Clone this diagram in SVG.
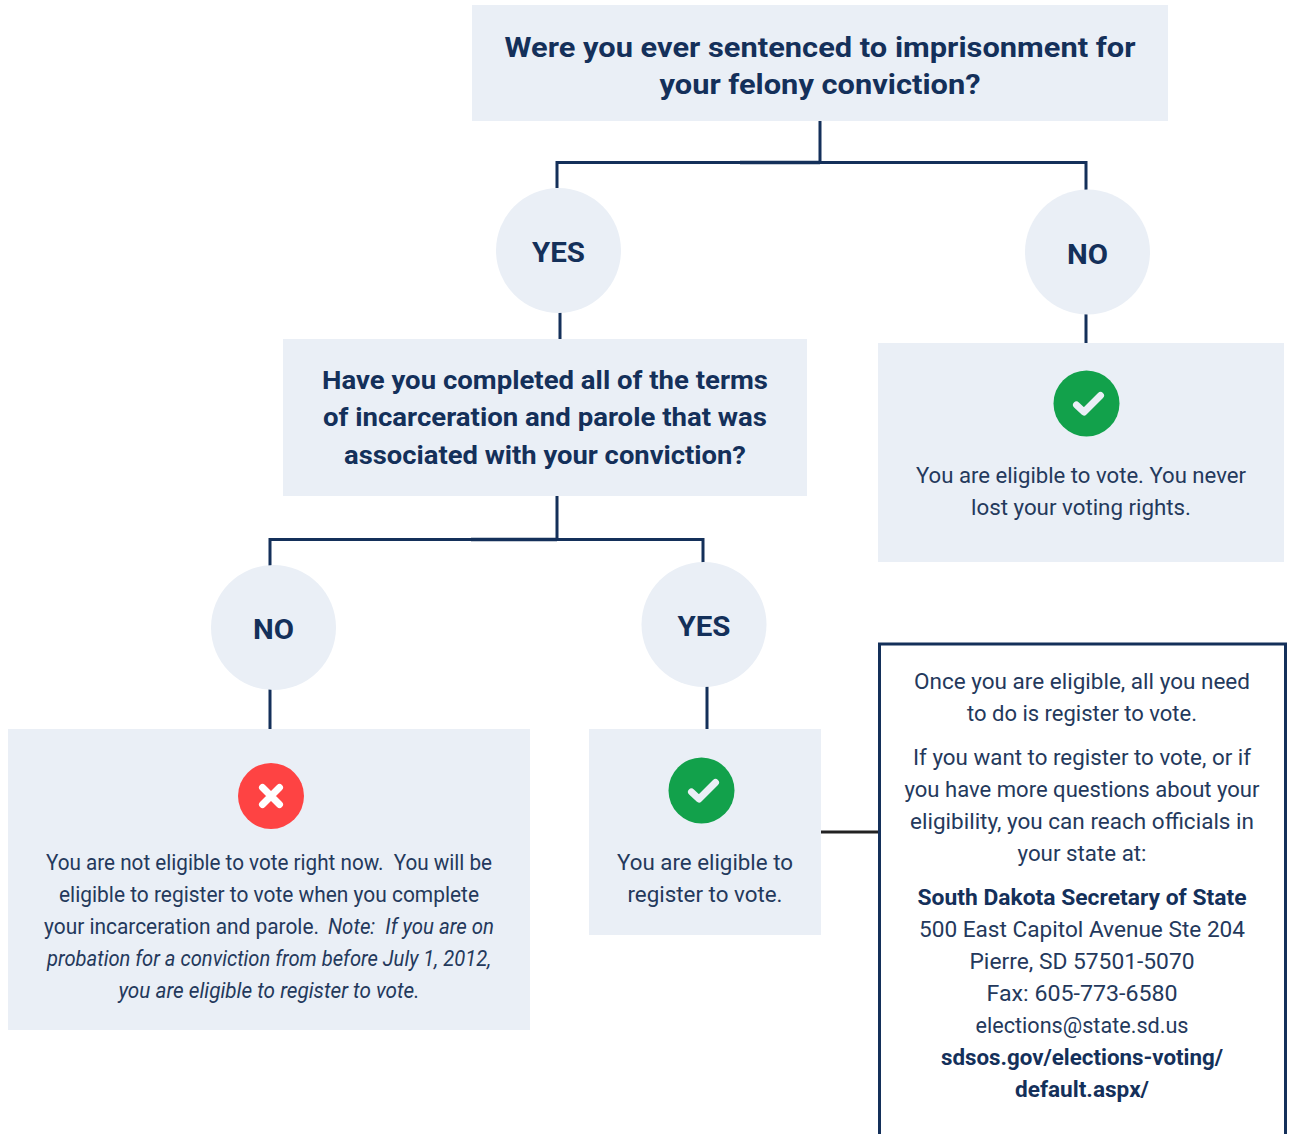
<svg xmlns="http://www.w3.org/2000/svg" width="1290" height="1134" viewBox="0 0 1290 1134">
<style>
text{font-family:"Roboto","Liberation Sans",sans-serif;fill:#24395c;text-anchor:middle}
.box{fill:#eaeff6}
.q{font-size:28px;font-weight:700;fill:#14305a}
.q2{font-size:26.5px;font-weight:700;fill:#14305a}
.a{font-size:27px;font-weight:700;fill:#14305a}
.t{font-size:22px;font-weight:400}
.b{font-weight:700;fill:#14305a}
.i{font-style:italic}
.s{text-anchor:start}
.c{fill:none;stroke:#14305a;stroke-width:3}
.h{fill:none;stroke:#14305a;stroke-width:3.6}
.k{fill:none;stroke:#222;stroke-width:3}
.x{fill:none;stroke:#fff;stroke-width:7;stroke-linecap:round}
.tick{fill:none;stroke:#eaeff6;stroke-width:7;stroke-linecap:round;stroke-linejoin:round}
</style>
<g id="connectors">
<path class="c" d="M820 121V162M557 188V162.500H1086V190"/>
<path class="h" d="M740 162.500H820"/>
<path class="c" d="M560 312V340M1086 314V344"/>
<path class="c" d="M557 496V539M270 566V539.500H703V563"/>
<path class="h" d="M471 539.500H557"/>
<path class="c" d="M270 689V730M707 686V730"/>
<path class="k" d="M821 832H879"/>
</g>
<g id="q1"><rect class="box" x="472" y="5" width="696" height="116"/>
<text class="q" x="820" y="57" textLength="631" lengthAdjust="spacingAndGlyphs">Were you ever sentenced to imprisonment for</text>
<text class="q" x="820" y="94" textLength="321" lengthAdjust="spacingAndGlyphs">your felony conviction?</text></g>
<g id="yes1"><circle class="box" cx="558.500" cy="250.500" r="62.500"/><text class="a" x="558.500" y="262" textLength="53" lengthAdjust="spacingAndGlyphs">YES</text></g>
<g id="no1"><circle class="box" cx="1087.500" cy="252" r="62.500"/><text class="a" x="1087.500" y="264" textLength="41" lengthAdjust="spacingAndGlyphs">NO</text></g>
<g id="q2"><rect class="box" x="283" y="339" width="524" height="157"/>
<text class="q2" x="545" y="389" textLength="446" lengthAdjust="spacingAndGlyphs">Have you completed all of the terms</text>
<text class="q2" x="545" y="426" textLength="444" lengthAdjust="spacingAndGlyphs">of incarceration and parole that was</text>
<text class="q2" x="545" y="464" textLength="402" lengthAdjust="spacingAndGlyphs">associated with your conviction?</text></g>
<g id="result-no-conviction"><rect class="box" x="878" y="343" width="406" height="219"/>
<circle cx="1086.500" cy="403.500" r="33" fill="#12a14b"/><path class="tick" d="M1076.500 405L1084 412L1100.500 395.500"/>
<text class="t" x="1081" y="483" textLength="330" lengthAdjust="spacingAndGlyphs">You are eligible to vote. You never</text>
<text class="t" x="1081" y="515" textLength="220" lengthAdjust="spacingAndGlyphs">lost your voting rights.</text></g>
<g id="no2"><circle class="box" cx="273.500" cy="627.500" r="62.500"/><text class="a" x="273.500" y="639" textLength="41" lengthAdjust="spacingAndGlyphs">NO</text></g>
<g id="yes2"><circle class="box" cx="704" cy="624.500" r="62.500"/><text class="a" x="704" y="636" textLength="53" lengthAdjust="spacingAndGlyphs">YES</text></g>
<g id="result-not-eligible"><rect class="box" x="8" y="729" width="522" height="301"/>
<circle cx="271" cy="796" r="33" fill="#fe4343"/><path class="x" d="M262.500 787.500L279.500 804.500M279.500 787.500L262.500 804.500"/>
<text class="t" x="269" y="870" textLength="446" lengthAdjust="spacingAndGlyphs" xml:space="preserve">You are not eligible to vote right now.  You will be</text>
<text class="t" x="269" y="902" textLength="420" lengthAdjust="spacingAndGlyphs">eligible to register to vote when you complete</text>
<text class="t s" x="44" y="934" textLength="275" lengthAdjust="spacingAndGlyphs">your incarceration and parole.</text>
<text class="t i s" x="328" y="934" textLength="166" lengthAdjust="spacingAndGlyphs" xml:space="preserve">Note:  If you are on</text>
<text class="t i" x="269" y="966" textLength="444" lengthAdjust="spacingAndGlyphs">probation for a conviction from before July 1, 2012,</text>
<text class="t i" x="269" y="998" textLength="301" lengthAdjust="spacingAndGlyphs">you are eligible to register to vote.</text></g>
<g id="result-eligible"><rect class="box" x="589" y="729" width="232" height="206"/>
<circle cx="701.500" cy="790.500" r="33" fill="#12a14b"/><path class="tick" d="M691.500 792L699 799L715.500 782.500"/>
<text class="t" x="705" y="870" textLength="176" lengthAdjust="spacingAndGlyphs">You are eligible to</text>
<text class="t" x="705" y="902" textLength="155" lengthAdjust="spacingAndGlyphs">register to vote.</text></g>
<g id="contact"><path d="M879.500 1134V644H1285.500V1134" fill="#fff" stroke="#14305a" stroke-width="3"/>
<text class="t" x="1082" y="689" textLength="336" lengthAdjust="spacingAndGlyphs">Once you are eligible, all you need</text>
<text class="t" x="1082" y="721" textLength="230" lengthAdjust="spacingAndGlyphs">to do is register to vote.</text>
<text class="t" x="1082" y="765" textLength="338" lengthAdjust="spacingAndGlyphs">If you want to register to vote, or if</text>
<text class="t" x="1082" y="797" textLength="355" lengthAdjust="spacingAndGlyphs">you have more questions about your</text>
<text class="t" x="1082" y="829" textLength="344" lengthAdjust="spacingAndGlyphs">eligibility, you can reach officials in</text>
<text class="t" x="1082" y="861" textLength="129" lengthAdjust="spacingAndGlyphs">your state at:</text>
<text class="t b" x="1082" y="905" textLength="329" lengthAdjust="spacingAndGlyphs">South Dakota Secretary of State</text>
<text class="t" x="1082" y="937" textLength="326" lengthAdjust="spacingAndGlyphs">500 East Capitol Avenue Ste 204</text>
<text class="t" x="1082" y="969" textLength="225" lengthAdjust="spacingAndGlyphs">Pierre, SD 57501-5070</text>
<text class="t" x="1082" y="1001" textLength="191" lengthAdjust="spacingAndGlyphs">Fax: 605-773-6580</text>
<text class="t" x="1082" y="1033" textLength="213" lengthAdjust="spacingAndGlyphs">elections@state.sd.us</text>
<text class="t b" x="1082" y="1065" textLength="282" lengthAdjust="spacingAndGlyphs">sdsos.gov/elections-voting/</text>
<text class="t b" x="1082" y="1097" textLength="134" lengthAdjust="spacingAndGlyphs">default.aspx/</text></g>
</svg>
